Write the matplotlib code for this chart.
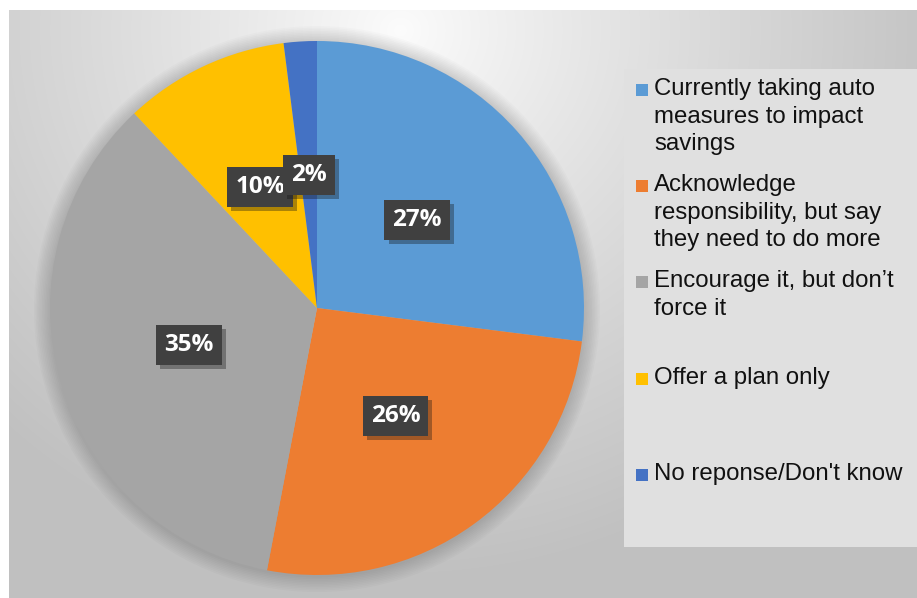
import numpy as np
import matplotlib
matplotlib.use("Agg")
import matplotlib.pyplot as plt
from matplotlib.patches import Rectangle, Circle
import matplotlib.patheffects as pe

# ---- data ----
categories = [
    "Currently taking auto\nmeasures to impact\nsavings",
    "Acknowledge\nresponsibility, but say\nthey need to do more",
    "Encourage it, but don\u2019t\nforce it",
    "Offer a plan only",
    "No reponse/Don't know",
]
values = [27, 26, 35, 10, 2]
colors = ["#5B9BD5", "#ED7D31", "#A5A5A5", "#FFC000", "#4472C4"]

W, H = 917, 598
fig = plt.figure(figsize=(W / 100, H / 100), dpi=100)
fig.patch.set_facecolor("white")

# ---- background gradient ----
bg = fig.add_axes([0, 0, 1, 1])
bg.set_xlim(0, W)
bg.set_ylim(H, 0)
bg.axis("off")
yy, xx = np.mgrid[0:H, 0:W]
d = np.sqrt(((xx - 400) / 1.0) ** 2 + ((yy - 30) / 0.95) ** 2)
v = 252 - 58 * np.clip(d / 560, 0, 1.4) ** 0.9
v = np.clip(v, 192, 255) / 255.0
img = np.dstack([v, v, v])
img[:10, :, :] = 1.0
img[:, :9, :] = 1.0
bg.imshow(img, extent=(0, W, H, 0), interpolation="bilinear", zorder=0)

# legend box
leg_x0, leg_y0, leg_x1, leg_y1 = 624, 69, 917, 547
bg.add_patch(Rectangle((leg_x0, leg_y0), leg_x1 - leg_x0, leg_y1 - leg_y0,
                       facecolor="#e0e0e0", edgecolor="none", zorder=1))

# ---- pie ----
cx, cy, r = 317, 308, 267
ax = fig.add_axes([(cx - r) / W, (H - cy - r) / H, 2 * r / W, 2 * r / H])
ax.set_facecolor("none")

# soft shadow behind pie
for i in range(10):
    ax.add_patch(Circle((0, -0.004), 1 + 0.006 * (i + 1), facecolor="black",
                        edgecolor="none", alpha=0.014, zorder=0, clip_on=False))

wedges, texts, autotexts = ax.pie(
    values, colors=colors, startangle=90, counterclock=False,
    autopct="%1.0f%%", pctdistance=0.5, radius=1,
    wedgeprops=dict(linewidth=0, zorder=2),
    textprops=dict(color="white", fontsize=17.5, fontweight="bold",
                   family=["Open Sans", "DejaVu Sans"]),
)
for t in autotexts:
    t.set_zorder(5)
    t.set_bbox(dict(boxstyle="square,pad=0.33", facecolor="#404040",
                    edgecolor="none"))
    t.get_bbox_patch().set_path_effects(
        [pe.SimplePatchShadow(offset=(3, -3), alpha=0.35), pe.Normal()])
ax.set_xlim(-1, 1)
ax.set_ylim(-1, 1)
ax.set_aspect("equal")
ax.axis("off")

# ---- legend (manual, to match layout) ----
first_top = 81
step = 96.2
for i, (lab, col) in enumerate(zip(categories, colors)):
    ytop = first_top + i * step
    bg.add_patch(Rectangle((636, ytop + 3), 12, 12, facecolor=col,
                           edgecolor="none", zorder=3))
    bg.text(654, ytop - 3, lab, ha="left", va="top", fontsize=17.3,
            family=["Liberation Sans", "DejaVu Sans"], color="#111111",
            linespacing=1.33, zorder=3)

fig.savefig("out.png", dpi=100)
